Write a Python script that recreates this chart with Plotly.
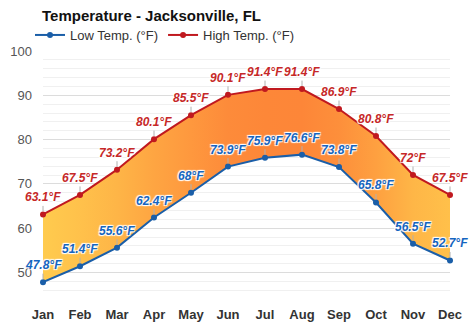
import plotly.graph_objects as go

months = ["Jan", "Feb", "Mar", "Apr", "May", "Jun", "Jul", "Aug", "Sep", "Oct", "Nov", "Dec"]
low_temp = [47.8, 51.4, 55.6, 62.4, 68, 73.9, 75.9, 76.6, 73.8, 65.8, 56.5, 52.7]
high_temp = [63.1, 67.5, 73.2, 80.1, 85.5, 90.1, 91.4, 91.4, 86.9, 80.8, 72, 67.5]
y_ticks = [50, 60, 70, 80, 90, 100]

LOW_COLOR = "#1a5ea8"
HIGH_COLOR = "#c0191f"
LOW_TEXT = "#1565c0"
HIGH_TEXT = "#c62828"

W, H = 474, 331
xs = list(range(len(months)))

# horizontal gradient of the band, coloured by the month's average temperature
avg = [(a + b) / 2 for a, b in zip(low_temp, high_temp)]
amin, amax = min(avg), max(avg)
c_cool = (255, 203, 78)
c_warm = (253, 134, 56)
colorscale = []
for i, a in enumerate(avg):
    t = (a - amin) / (amax - amin)
    c = tuple(round(c_cool[k] + (c_warm[k] - c_cool[k]) * t) for k in range(3))
    colorscale.append([i / (len(avg) - 1), "rgb(%d,%d,%d)" % c])

fig = go.Figure()
fig.add_trace(go.Scatter(
    x=xs, y=low_temp, mode="lines+markers", name="Low Temp. (°F)",
    line=dict(color=LOW_COLOR, width=2), marker=dict(color=LOW_COLOR, size=6),
    cliponaxis=False,
))
fig.add_trace(go.Scatter(
    x=xs, y=high_temp, mode="none", showlegend=False, hoverinfo="skip",
    fill="tonexty",
    fillgradient=dict(type="horizontal", colorscale=colorscale),
))
fig.add_trace(go.Scatter(
    x=xs, y=high_temp, mode="lines+markers", name="High Temp. (°F)",
    line=dict(color=HIGH_COLOR, width=2), marker=dict(color=HIGH_COLOR, size=6),
    cliponaxis=False,
))

shadow = "1px 1px 1px #fff, -1px -1px 1px #fff, 1px -1px 1px #fff, -1px 1px 1px #fff"
annotations = []
for series, color in ((low_temp, LOW_TEXT), (high_temp, HIGH_TEXT)):
    for x, v in zip(xs, series):
        annotations.append(dict(
            x=x, y=v, xref="x", yref="y", text=f"{v:g}°F",
            showarrow=True, arrowhead=0, arrowwidth=1, arrowcolor="#b0b0b0",
            ax=0, ay=-17, standoff=3,
            font=dict(family="Liberation Sans, Arial", size=12, color=color,
                      weight="bold", style="italic", shadow=shadow),
        ))

fig.update_layout(
    width=W, height=H,
    margin=dict(l=43, r=24, t=51, b=32, autoexpand=False),
    paper_bgcolor="white", plot_bgcolor="white",
    title=dict(text="<b>Temperature - Jacksonville, FL</b>", x=42 / W, xref="container", xanchor="left",
               y=1 - 16 / H, yanchor="middle",
               font=dict(family="Liberation Sans, Arial", size=15, color="#111")),
    legend=dict(orientation="h", traceorder="normal", x=30 / W, xref="container", xanchor="left",
                y=1 - 35 / H, yref="container", yanchor="middle",
                bgcolor="rgba(0,0,0,0)",
                font=dict(family="Liberation Sans, Arial", size=13, color="#333"),
                entrywidth=0, tracegroupgap=0),
    showlegend=True,
    annotations=annotations,
    font=dict(family="Liberation Sans, Arial"),
)
fig.update_xaxes(
    range=[0, 11], tickmode="array", tickvals=xs, ticktext=months,
    showgrid=False, zeroline=False, showline=False, ticks="",
    tickfont=dict(family="Liberation Sans, Arial", size=13, color="#333", weight="bold"),
    ticklabelstandoff=6,
)
fig.update_yaxes(
    range=[44, 100], tickmode="array", tickvals=y_ticks,
    showgrid=True, gridcolor="#dcdcdc", gridwidth=1, zeroline=False, showline=False,
    tickfont=dict(family="Liberation Sans, Arial", size=13, color="#555"),
    ticklabelstandoff=10,
    minor=dict(dtick=2, tick0=0, showgrid=True, gridcolor="#f0f0f0", gridwidth=1),
)

fig.write_html("out.html")
